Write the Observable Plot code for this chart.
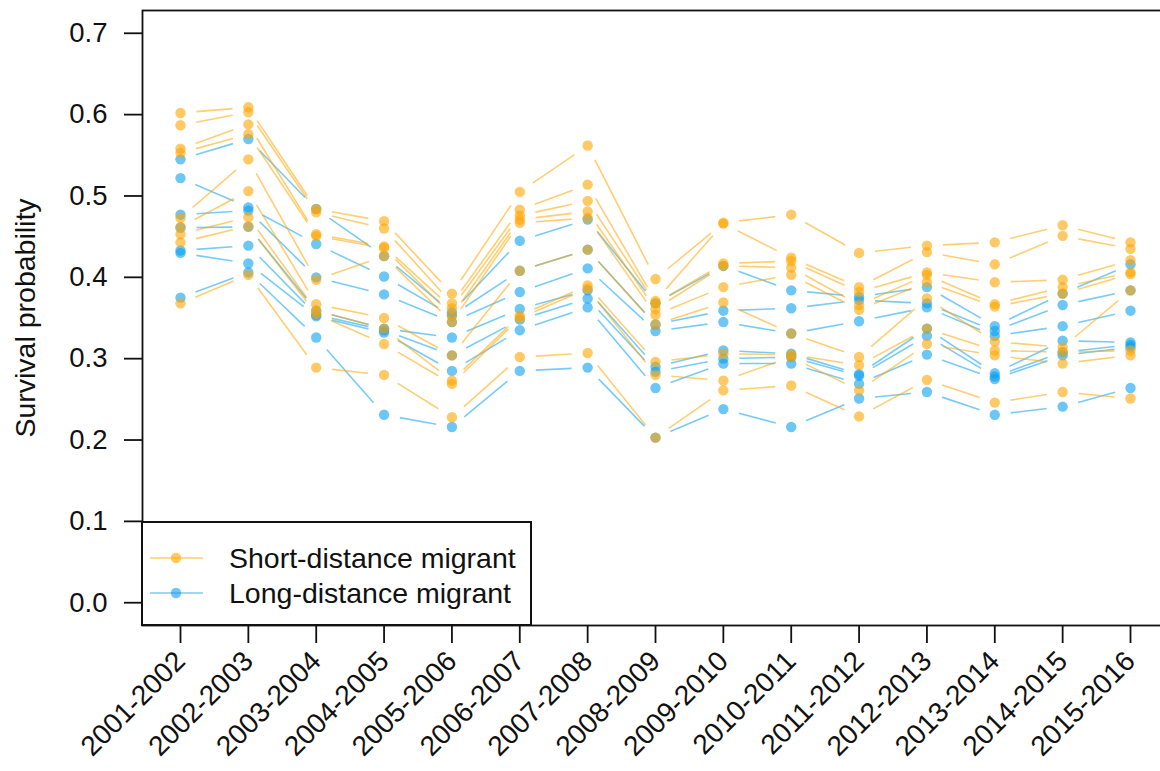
<!DOCTYPE html>
<html><head><meta charset="utf-8">
<script src="https://cdn.jsdelivr.net/npm/d3@7"></script>
<script src="https://cdn.jsdelivr.net/npm/@observablehq/plot@0.6"></script>
<style>
html,body{margin:0;padding:0;background:#fff;overflow:hidden;}
#wrap{position:relative;width:1168px;height:771px;overflow:hidden;font-family:"Liberation Sans",Arial,Helvetica,sans-serif;}
#chart svg{max-width:none !important;}
#legend{position:absolute;left:141px;top:521px;width:387px;height:101px;border:2px solid #111;background:#fff;box-sizing:content-box;}
.row{position:absolute;left:0;height:34px;}
.row svg{display:block;position:absolute;left:0;top:0;}
.row span{position:absolute;left:86px;font-size:28.5px;color:#111;white-space:nowrap;line-height:34px;top:0;}
</style></head>
<body><div id="wrap"><div id="chart"></div><div id="legend"></div></div>
<script>
const years = ["2001-2002","2002-2003","2003-2004","2004-2005","2005-2006","2006-2007","2007-2008","2008-2009","2009-2010","2010-2011","2011-2012","2012-2013","2013-2014","2014-2015","2015-2016"];
const yTicks = [0, 0.1, 0.2, 0.3, 0.4, 0.5, 0.6, 0.7];
const groups = ["Short-distance migrant", "Long-distance migrant"];
const groupColors = ["#FFA500", "#0AA0F0"];

// Short-distance migrant species (one array per species, one value per season)
const shortDistance = [
  [0.602,0.609,0.484,0.469,0.380,0.505,0.562,0.398,0.467,0.477,0.430,0.439,0.443,0.464,0.443],
  [0.587,0.603,0.480,0.460,0.368,0.483,0.514,0.371,0.466,0.424,0.388,0.431,0.416,0.451,0.435],
  [0.558,0.588,0.453,0.438,0.362,0.476,0.494,0.368,0.417,0.420,0.382,0.406,0.394,0.397,0.421],
  [0.553,0.576,0.451,0.436,0.353,0.471,0.481,0.361,0.414,0.412,0.366,0.403,0.367,0.388,0.406],
  [0.473,0.545,0.397,0.426,0.345,0.467,0.473,0.354,0.388,0.403,0.360,0.394,0.364,0.380,0.404],
  [0.462,0.506,0.367,0.350,0.304,0.408,0.434,0.342,0.369,0.331,0.302,0.374,0.321,0.314,0.384],
  [0.453,0.474,0.359,0.337,0.273,0.353,0.390,0.296,0.306,0.305,0.292,0.337,0.310,0.308,0.310],
  [0.443,0.463,0.355,0.318,0.269,0.350,0.386,0.280,0.273,0.302,0.261,0.318,0.304,0.294,0.304],
  [0.368,0.403,0.289,0.280,0.228,0.302,0.307,0.203,0.261,0.267,0.229,0.274,0.246,0.259,0.251]
];
// Long-distance migrant species
const longDistance = [
  [0.545,0.570,0.484,0.426,0.357,0.445,0.471,0.368,0.414,0.384,0.376,0.388,0.340,0.380,0.416],
  [0.522,0.486,0.441,0.401,0.353,0.408,0.434,0.342,0.359,0.362,0.372,0.368,0.334,0.366,0.384],
  [0.477,0.482,0.400,0.379,0.345,0.382,0.411,0.334,0.345,0.331,0.346,0.363,0.328,0.340,0.359],
  [0.461,0.462,0.359,0.337,0.326,0.361,0.384,0.290,0.310,0.306,0.281,0.337,0.282,0.322,0.320],
  [0.433,0.439,0.354,0.335,0.304,0.348,0.374,0.284,0.300,0.302,0.279,0.328,0.278,0.308,0.317],
  [0.430,0.417,0.352,0.332,0.285,0.335,0.363,0.264,0.294,0.294,0.269,0.305,0.275,0.304,0.314],
  [0.375,0.406,0.326,0.231,0.216,0.285,0.289,0.203,0.238,0.216,0.251,0.259,0.231,0.241,0.264]
];

// interleave species for drawing order
const seriesList = [];
const n = Math.max(shortDistance.length, longDistance.length);
for (let k = 0; k < n; k++) {
  if (k < longDistance.length) seriesList.push({group: groups[1], id: "L" + k, values: longDistance[k]});
  if (k < shortDistance.length) seriesList.push({group: groups[0], id: "S" + k, values: shortDistance[k]});
}
const points = [];
const segments = [];
for (const s of seriesList) {
  s.values.forEach((v, i) => {
    points.push({group: s.group, id: s.id, x: i + 1, y: v});
    if (i < s.values.length - 1) segments.push({group: s.group, id: s.id, x1: i + 1, y1: v, x2: i + 2, y2: s.values[i + 1]});
  });
}

const color = {domain: groups, range: groupColors};
const FONT = '"Liberation Sans", Arial, Helvetica, sans-serif';

const chart = Plot.plot({
  width: 1168,
  height: 771,
  marginLeft: 142,
  marginRight: 0,
  marginTop: 10,
  marginBottom: 146,
  style: {fontFamily: FONT, color: "#111", background: "#fff", overflow: "visible", maxWidth: "none"},
  x: {type: "linear", domain: [0.44, 15.56]},
  y: {domain: [-0.028, 0.728]},
  color,
  marks: [
    Plot.arrow(segments, {x1: "x1", y1: "y1", x2: "x2", y2: "y2", stroke: "group", strokeOpacity: 0.55, strokeWidth: 1.6, headLength: 0, inset: 16, strokeLinecap: "butt"}),
    Plot.dot(points, {x: "x", y: "y", fill: "group", fillOpacity: 0.6, r: 5.2, stroke: "none"}),
    Plot.frame({stroke: "#111", strokeWidth: 1.8}),
    Plot.axisY({ticks: yTicks, tickFormat: d3.format(".1f"), tickSize: 18, tickPadding: 17, fontSize: 27.5, strokeWidth: 1.8, label: null}),
    Plot.axisX({ticks: d3.range(1, years.length + 1), tickFormat: d => years[d - 1], tickSize: 18, tickPadding: 13, tickRotate: -45, fontSize: 28, strokeWidth: 1.8, label: null}),
    Plot.text(["Survival probability"], {frameAnchor: "left", dx: -117, rotate: -90, fontSize: 28.5, textAnchor: "middle", lineAnchor: "middle", fill: "#111"})
  ]
});
document.getElementById("chart").appendChild(chart);

// legend
const legend = document.getElementById("legend");
groups.forEach((g, i) => {
  const row = document.createElement("div");
  row.className = "row";
  row.style.top = (18 + i * 35) + "px";
  row.style.width = "385px";
  row.innerHTML = `<svg width="70" height="34"><line x1="7" x2="60" y1="17" y2="17" stroke="${groupColors[i]}" stroke-opacity="0.55" stroke-width="1.6"/><circle cx="33" cy="17" r="5.2" fill="${groupColors[i]}" fill-opacity="0.6"/></svg><span>${g}</span>`;
  legend.appendChild(row);
});
</script>
</body></html>
